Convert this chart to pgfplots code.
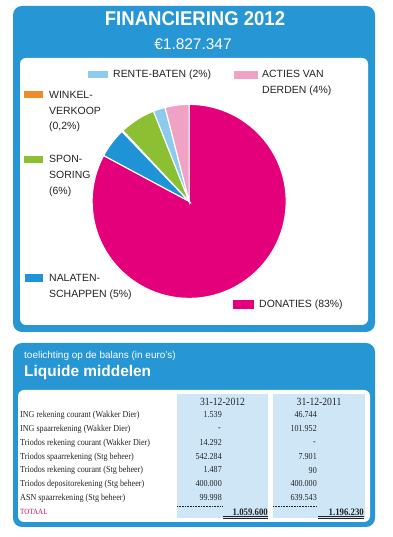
\documentclass[border=0pt]{standalone}
\usepackage{pgfplots}
\pgfplotsset{compat=1.18}
\usepackage{pgfplotstable}
\usepackage{fontspec}
\setmainfont{Liberation Sans}
\newfontfamily\titlefont{Liberation Sans}[FakeStretch=0.93]
\newfontfamily\tabfont{Liberation Serif}[FakeStretch=0.88]
\definecolor{boxblue}{RGB}{38,150,212}
\definecolor{donat}{RGB}{228,0,122}
\definecolor{nalat}{RGB}{30,148,214}
\definecolor{winkel}{RGB}{240,140,40}
\definecolor{spons}{RGB}{140,192,50}
\definecolor{rente}{RGB}{140,202,238}
\definecolor{acties}{RGB}{240,162,196}
\definecolor{tabblue}{RGB}{206,230,245}
\definecolor{totaal}{RGB}{190,20,110}
\definecolor{txt}{RGB}{35,35,35}
% pie shares (percent), clockwise from the top
\def\vDon{83}\def\vNal{5}\def\vWin{0.2}\def\vSpo{6}\def\vRen{2}\def\vAct{4}
\pgfmathsetmacro{\sc}{360/(\vDon+\vNal+\vWin+\vSpo+\vRen+\vAct)}
\begin{document}
\begin{tikzpicture}[x=1bp,y=1bp]
\fill[white] (0,0) rectangle (392,537);
% ---- top box
\fill[boxblue, rounded corners=9bp] (13,205) rectangle (375,531);
\fill[white, rounded corners=6bp] (20,212) rectangle (368,479);
\node[white, font=\titlefont\bfseries\fontsize{20}{22}\selectfont] at (195,518) {FINANCIERING 2012};
\node[white, font=\fontsize{15.5}{17}\selectfont] at (193,493) {€1.827.347};
% ---- pie
\begin{axis}[at={(195,346)}, anchor=center, width=194bp, height=194bp,
  scale only axis, xmin=-1, xmax=1, ymin=-1, ymax=1, hide axis, clip=false]
\fill[donat, draw=white, line width=1.1pt] (axis cs:0,0) -- ++(90:97bp)
  arc[start angle=90, delta angle={-\vDon*\sc}, radius=97bp] -- cycle;
\fill[nalat, draw=white, line width=1.1pt] (axis cs:0,0) -- ++({90-\vDon*\sc}:97bp)
  arc[start angle={90-\vDon*\sc}, delta angle={-\vNal*\sc}, radius=97bp] -- cycle;
\fill[winkel, draw=white, line width=1.1pt] (axis cs:0,0) -- ++({90-(\vDon+\vNal)*\sc}:97bp)
  arc[start angle={90-(\vDon+\vNal)*\sc}, delta angle={-\vWin*\sc}, radius=97bp] -- cycle;
\fill[spons, draw=white, line width=1.1pt] (axis cs:0,0) -- ++({90-(\vDon+\vNal+\vWin)*\sc}:97bp)
  arc[start angle={90-(\vDon+\vNal+\vWin)*\sc}, delta angle={-\vSpo*\sc}, radius=97bp] -- cycle;
\fill[rente, draw=white, line width=1.1pt] (axis cs:0,0) -- ++({90-(\vDon+\vNal+\vWin+\vSpo)*\sc}:97bp)
  arc[start angle={90-(\vDon+\vNal+\vWin+\vSpo)*\sc}, delta angle={-\vRen*\sc}, radius=97bp] -- cycle;
\fill[acties, draw=white, line width=1.1pt] (axis cs:0,0) -- ++({90-(\vDon+\vNal+\vWin+\vSpo+\vRen)*\sc}:97bp)
  arc[start angle={90-(\vDon+\vNal+\vWin+\vSpo+\vRen)*\sc}, delta angle={-\vAct*\sc}, radius=97bp] -- cycle;
\end{axis}
% ---- legend
\begin{scope}[every node/.style={txt, font=\fontsize{10.5}{15.8}\selectfont, inner sep=0pt, anchor=west, align=left}]
\fill[rente] (88,459) rectangle (108,466);
\node at (113,462) {RENTE-BATEN (2\%)};
\fill[acties] (234,458) rectangle (258,466);
\node[anchor=north west] at (262,466.5) {ACTIES VAN\\DERDEN (4\%)};
\fill[winkel] (24,439) rectangle (43,446);
\node[anchor=north west] at (49,446) {WINKEL-\\VERKOOP\\(0,2\%)};
\fill[spons] (24,374) rectangle (43,381);
\node[anchor=north west] at (49,381.5) {SPON-\\SORING\\(6\%)};
\fill[nalat] (25,255) rectangle (43,263);
\node[anchor=north west] at (49,263) {NALATEN-\\SCHAPPEN (5\%)};
\fill[donat] (233,228) rectangle (254,237);
\node at (259,232) {DONATIES (83\%)};
\end{scope}
% ---- bottom box
\fill[boxblue, rounded corners=9bp] (13,10) rectangle (375,194);
\fill[white, rounded corners=6bp] (18,15) rectangle (370,147);
\node[white, anchor=west, inner sep=0pt, font=\fontsize{10}{12}\selectfont] at (24,181) {toelichting op de balans (in euro's)};
\node[white, anchor=west, inner sep=0pt, font=\bfseries\fontsize{15.5}{17}\selectfont] at (24,164) {Liquide middelen};
\fill[tabblue] (177,19) rectangle (268,143);
\fill[tabblue] (273,19) rectangle (365,143);
\begin{scope}[every node/.style={txt, inner sep=0pt, font=\tabfont\fontsize{9.2}{10}\selectfont}]
\node at (222.5,135) {\fontsize{11}{12}\selectfont 31-12-2012};
\node at (319,135) {\fontsize{11}{12}\selectfont 31-12-2011};
\node[anchor=west] at (20,122) {ING rekening courant (Wakker Dier)};
\node[anchor=west] at (20,108) {ING spaarrekening (Wakker Dier)};
\node[anchor=west] at (20,94) {Triodos rekening courant (Wakker Dier)};
\node[anchor=west] at (20,80) {Triodos spaarrekening (Stg beheer)};
\node[anchor=west] at (20,67) {Triodos rekening courant (Stg beheer)};
\node[anchor=west] at (20,53) {Triodos depositorekening (Stg beheer)};
\node[anchor=west] at (20,39) {ASN spaarrekening (Stg beheer)};
\node[anchor=west, totaal, font=\tabfont\fontsize{8}{9}\selectfont] at (20,25) {TOTAAL};
\node[anchor=east] at (222,122) {1.539};
\node[anchor=east] at (221,108) {-};
\node[anchor=east] at (222,94) {14.292};
\node[anchor=east] at (222,80) {542.284};
\node[anchor=east] at (222,67) {1.487};
\node[anchor=east] at (222,53) {400.000};
\node[anchor=east] at (222,39) {99.998};
\node[anchor=east] at (317,122) {46.744};
\node[anchor=east] at (317,108) {101.952};
\node[anchor=east] at (316,94) {-};
\node[anchor=east] at (317,80) {7.901};
\node[anchor=east] at (317,67) {90};
\node[anchor=east] at (317,53) {400.000};
\node[anchor=east] at (317,39) {639.543};
\node[anchor=east, font=\tabfont\bfseries\fontsize{10}{11}\selectfont] at (268,25) {1.059.600};
\node[anchor=east, font=\tabfont\bfseries\fontsize{10}{11}\selectfont] at (364,25) {1.196.230};
\end{scope}
\draw[txt, densely dotted, line width=0.6pt] (177,30.5) -- (222,30.5);
\draw[txt, densely dotted, line width=0.6pt] (273,30.5) -- (317,30.5);
\draw[txt, line width=0.5pt] (223,20.5) -- (268,20.5);
\draw[txt, line width=1pt] (223,18.5) -- (268,18.5);
\draw[txt, line width=0.5pt] (318,20.5) -- (364,20.5);
\draw[txt, line width=1pt] (318,18.5) -- (364,18.5);
\end{tikzpicture}
\end{document}
